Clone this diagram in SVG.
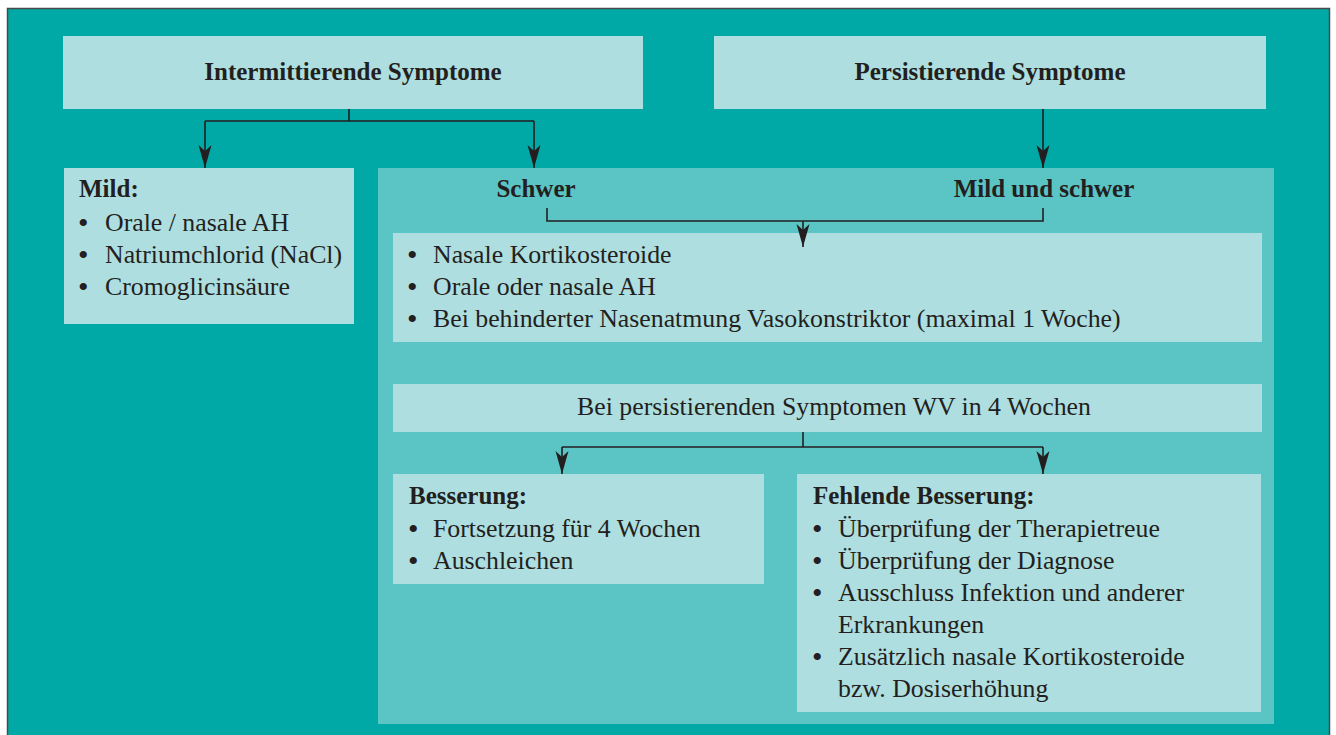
<svg xmlns="http://www.w3.org/2000/svg" width="1336" height="735" viewBox="0 0 1336 735">
<defs>
<style>
.t{font-family:"Liberation Serif","Times New Roman",serif;font-size:25.8px;fill:#231F20}
.b{font-weight:bold;font-size:25px}
.d{font-size:30px}
.light{fill:#AEDEDF}
.panel{fill:#5BC4C4}
.ln{fill:none;stroke:#231F20;stroke-width:1.6}
</style>
<marker id="ah" markerUnits="userSpaceOnUse" markerWidth="26" markerHeight="16" viewBox="-24 -8 26 16" refX="0" refY="0" orient="auto">
<path d="M0,0 L-23,-6.5 L-17,0 L-23,6.5 Z" fill="#231F20"/>
</marker>
</defs>
<rect x="0" y="0" width="1336" height="735" fill="#ffffff"/>
<rect x="7.5" y="8.5" width="1322" height="740" fill="#00A9A6" stroke="#4a4a4a" stroke-width="1.5"/>

<g id="intermittierend">
<rect class="light" x="63" y="36" width="580" height="73"/>
<text class="t b" x="353" y="80" text-anchor="middle">Intermittierende Symptome</text>
</g>
<g id="persistierend">
<rect class="light" x="714" y="36" width="552" height="73"/>
<text class="t b" x="990" y="80" text-anchor="middle">Persistierende Symptome</text>
</g>
<g id="mild">
<rect class="light" x="64" y="168" width="290" height="156"/>
<text class="t b" x="79" y="197">Mild:</text>
<text class="t" y="231"><tspan class="d" x="78" dy="2">•</tspan><tspan x="105" dy="-2">Orale / nasale AH</tspan></text>
<text class="t" y="263"><tspan class="d" x="78" dy="2">•</tspan><tspan x="105" dy="-2">Natriumchlorid (NaCl)</tspan></text>
<text class="t" y="295"><tspan class="d" x="78" dy="2">•</tspan><tspan x="105" dy="-2">Cromoglicinsäure</tspan></text>
</g>
<g id="panel">
<rect class="panel" x="378" y="168" width="896" height="556"/>
<text class="t b" x="536" y="197" text-anchor="middle">Schwer</text>
<text class="t b" x="1044" y="197" text-anchor="middle">Mild und schwer</text>
</g>
<g id="therapie">
<rect class="light" x="393" y="233" width="869" height="109"/>
<text class="t" y="263"><tspan class="d" x="407" dy="2">•</tspan><tspan x="433" dy="-2">Nasale Kortikosteroide</tspan></text>
<text class="t" y="295"><tspan class="d" x="407" dy="2">•</tspan><tspan x="433" dy="-2">Orale oder nasale AH</tspan></text>
<text class="t" y="327"><tspan class="d" x="407" dy="2">•</tspan><tspan x="433" dy="-2">Bei behinderter Nasenatmung Vasokonstriktor (maximal 1 Woche)</tspan></text>
</g>
<g id="wv">
<rect class="light" x="393" y="384" width="869" height="48"/>
<text class="t" x="834" y="415" text-anchor="middle">Bei persistierenden Symptomen WV in 4 Wochen</text>
</g>
<g id="besserung">
<rect class="light" x="393" y="474" width="371" height="110"/>
<text class="t b" x="409" y="504">Besserung:</text>
<text class="t" y="537"><tspan class="d" x="408" dy="2">•</tspan><tspan x="433" dy="-2">Fortsetzung für 4 Wochen</tspan></text>
<text class="t" y="569"><tspan class="d" x="408" dy="2">•</tspan><tspan x="433" dy="-2">Auschleichen</tspan></text>
</g>
<g id="fehlende">
<rect class="light" x="797" y="474" width="464" height="238"/>
<text class="t b" x="813" y="504">Fehlende Besserung:</text>
<text class="t" y="537"><tspan class="d" x="812" dy="2">•</tspan><tspan x="838" dy="-2">Überprüfung der Therapietreue</tspan></text>
<text class="t" y="569"><tspan class="d" x="812" dy="2">•</tspan><tspan x="838" dy="-2">Überprüfung der Diagnose</tspan></text>
<text class="t" y="601"><tspan class="d" x="812" dy="2">•</tspan><tspan x="838" dy="-2">Ausschluss Infektion und anderer</tspan></text>
<text class="t" x="838" y="633">Erkrankungen</text>
<text class="t" y="665"><tspan class="d" x="812" dy="2">•</tspan><tspan x="838" dy="-2">Zusätzlich nasale Kortikosteroide</tspan></text>
<text class="t" x="838" y="697">bzw. Dosiserhöhung</text>
</g>

<g id="connectors">
<path class="ln" d="M349,109 V121 M205,121 H534"/>
<path class="ln" d="M205,121 V168" marker-end="url(#ah)"/>
<path class="ln" d="M534,121 V168" marker-end="url(#ah)"/>
<path class="ln" d="M1043,109 V168" marker-end="url(#ah)"/>
<path class="ln" d="M547,208 V221 H1043 V208"/>
<path class="ln" d="M803,221 V247" marker-end="url(#ah)"/>
<path class="ln" d="M803,432 V447 M562,447 H1043"/>
<path class="ln" d="M562,447 V474" marker-end="url(#ah)"/>
<path class="ln" d="M1043,447 V474" marker-end="url(#ah)"/>
</g>
</svg>
